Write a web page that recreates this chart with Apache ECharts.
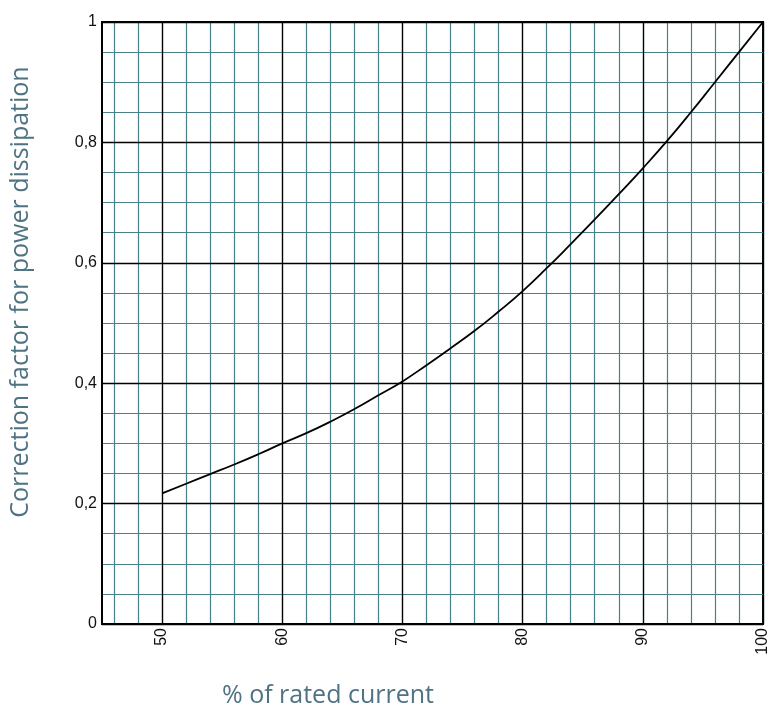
<!DOCTYPE html>
<html>
<head>
<meta charset="utf-8">
<script src="https://cdn.jsdelivr.net/npm/echarts@6/dist/echarts.min.js"></script>
<style>
html,body{margin:0;padding:0;background:#fff;}
#chart{width:771px;height:709px;}
</style>
</head>
<body>
<div id="chart"></div>
<script>
// Data
var currentPct = [50,52,54,56,58,60,62,64,66,68,70,72,74,76,78,80,82,84,86,88,90,92,94,96,98,100];
var correctionFactor = [0.217,0.233,0.249,0.265,0.282,0.300,0.317,0.336,0.357,0.380,0.403,0.430,0.458,0.487,0.519,0.553,0.591,0.631,0.672,0.714,0.757,0.802,0.850,0.900,0.950,1.000];
var xTickValues = [50,60,70,80,90,100];
var xTickLabels = ['50','60','70','80','90','100'];
var yTickValues = [0,0.2,0.4,0.6,0.8,1];
var yTickLabels = ['0','0,2','0,4','0,6','0,8','1'];
var xTitle = '% of rated current';
var yTitle = 'Correction factor for power dissipation';

var minorColor = '#4a8088';
var titleColor = '#4f7383';
var labelFont = {fontFamily: 'Liberation Sans, Arial, sans-serif', fontSize: 16, color: '#111'};

function findLabel(vals, labels, v) {
  for (var i = 0; i < vals.length; i++) {
    if (Math.abs(vals[i] - v) < 1e-6) return labels[i];
  }
  return '';
}

var chart = echarts.init(document.getElementById('chart'), null, {renderer: 'canvas'});
chart.setOption({
  animation: false,
  backgroundColor: '#fff',
  grid: {left: 102, right: 6, top: 22, bottom: 85, show: true, borderColor: '#000', borderWidth: 2, backgroundColor: '#fff'},
  xAxis: [
    {
      type: 'value', min: 45, max: 100, interval: 1, position: 'bottom', z: 0,
      axisLine: {show: false}, axisTick: {show: false}, axisLabel: {show: false},
      splitLine: {show: true, lineStyle: {color: ['rgba(0,0,0,0)', minorColor], width: 1.2}}
    },
    {
      type: 'value', min: 45, max: 100, interval: 5, position: 'bottom', z: 1,
      axisLine: {show: true, onZero: false, lineStyle: {color: '#000', width: 2}},
      axisTick: {show: false},
      axisLabel: Object.assign({
        show: true, rotate: 90, margin: 4,
        formatter: function (v) { return findLabel(xTickValues, xTickLabels, v); }
      }, labelFont),
      splitLine: {show: true, lineStyle: {color: ['rgba(0,0,0,0)', '#000'], width: 1.3}}
    }
  ],
  yAxis: [
    {
      type: 'value', min: 0, max: 1, interval: 0.05, position: 'left', z: 0,
      axisLine: {show: false}, axisTick: {show: false}, axisLabel: {show: false},
      splitLine: {show: true, lineStyle: {color: minorColor, width: 1.2}}
    },
    {
      type: 'value', min: 0, max: 1, interval: 0.2, position: 'left', z: 1,
      axisLine: {show: true, onZero: false, lineStyle: {color: '#000', width: 2}},
      axisTick: {show: false},
      axisLabel: Object.assign({
        show: true, margin: 5,
        formatter: function (v) { return findLabel(yTickValues, yTickLabels, v); }
      }, labelFont),
      splitLine: {show: true, lineStyle: {color: '#000', width: 1.3}}
    }
  ],
  series: [{
    type: 'line',
    xAxisIndex: 1, yAxisIndex: 1,
    data: currentPct.map(function (x, i) { return [x, correctionFactor[i]]; }),
    smooth: 0.5,
    showSymbol: false,
    symbol: 'none',
    lineStyle: {color: '#000', width: 1.8},
    z: 5
  }],
  graphic: [
    {
      type: 'text', left: 222, top: 683,
      style: {text: xTitle, fill: titleColor, font: '25px "Open Sans", "Noto Sans", sans-serif'}
    },
    {
      type: 'text', x: 21, y: 292, rotation: Math.PI / 2,
      style: {text: yTitle, fill: titleColor, font: '25px "Open Sans", "Noto Sans", sans-serif', align: 'center', verticalAlign: 'middle'}
    }
  ]
});
</script>
</body>
</html>
